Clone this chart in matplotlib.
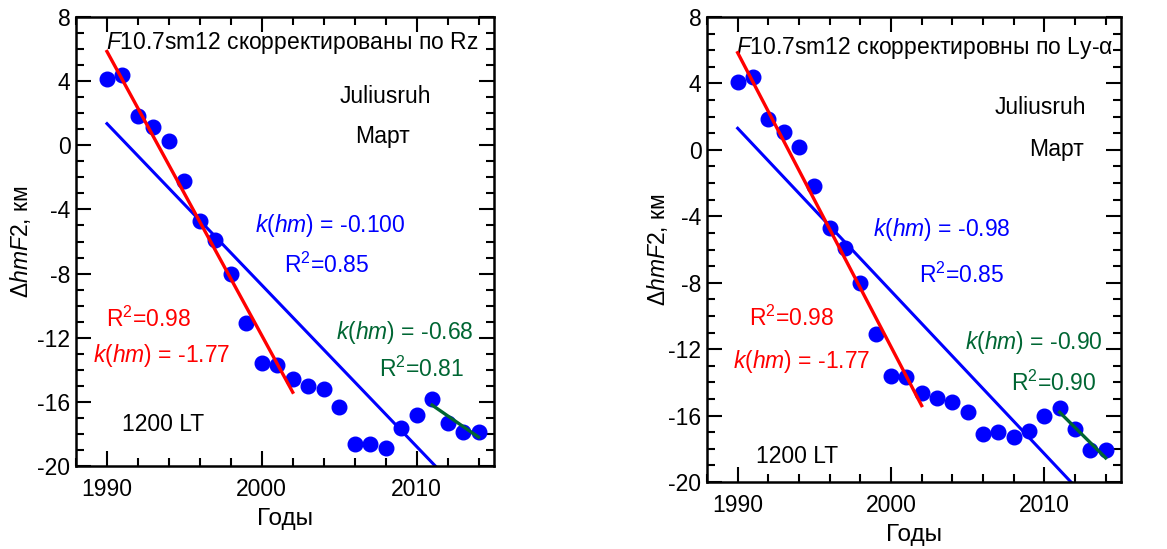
import matplotlib
matplotlib.use("Agg")
import matplotlib.pyplot as plt
from matplotlib.ticker import MultipleLocator

plt.rcParams['font.family'] = ['Liberation Sans', 'DejaVu Sans']
plt.rcParams['mathtext.fontset'] = 'custom'
plt.rcParams['mathtext.rm'] = 'Liberation Sans'
plt.rcParams['mathtext.it'] = 'Liberation Sans:italic'
plt.rcParams['axes.unicode_minus'] = False

years = list(range(1990, 2015))
dhm_rz = [4.15, 4.4, 1.85, 1.15, 0.25, -2.2, -4.7, -5.9, -8.0, -11.1, -13.6, -13.7,
          -14.6, -15.0, -15.2, -16.3, -18.6, -18.65, -18.85, -17.6, -16.8, -15.85,
          -17.3, -17.9, -17.9]
dhm_ly = [4.1, 4.4, 1.85, 1.1, 0.2, -2.15, -4.7, -5.9, -8.0, -11.08, -13.6, -13.7,
          -14.65, -14.95, -15.2, -15.8, -17.1, -17.0, -17.3, -16.95, -16.05, -15.55,
          -16.8, -18.1, -18.1]

red_fit_x = [1990, 2002]
red_fit_rz = [5.85, -15.4]
red_fit_ly = [5.85, -15.4]
blue_fit_x = [1990, 2012.5]
blue_fit_rz = [1.35, -21.3]
blue_fit_ly = [1.3, -20.75]
green_fit_x = [2011, 2014]
green_fit_rz = [-16.2, -18.2]
green_fit_ly = [-15.8, -18.55]

titles = [r'$\mathit{F}$10.7sm12 скорректированы по Rz',
          r'$\mathit{F}$10.7sm12 скорректировны по Ly-α']
k_blue = ['-0.100', '-0.98']
r2_blue = ['0.85', '0.85']
k_red = ['-1.77', '-1.77']
r2_red = ['0.98', '0.98']
k_green = ['-0.68', '-0.90']
r2_green = ['0.81', '0.90']

W, H = 1167, 549
fig = plt.figure(figsize=(W / 100, H / 100), dpi=100)
axes_px = [(76, 17, 494, 466), (707, 17, 1121, 482)]
ylabel_x = [-0.103, -0.089]

BLUE = '#0000ff'
RED = '#ff0000'
GREEN = '#006633'
FS = 16.5

pos = [
    dict(title=(2001.95, 6.38), jul=(2007.96, 3.07), mar=(2007.83, 0.52),
         kb=(2004.4, -5.03), rb=(2004.2, -7.46), rr=(1992.7, -10.83),
         kr=(1993.56, -13.13), kg=(2009.25, -11.7), rg=(2010.35, -14.0),
         lt=(1993.6, -17.44)),
    dict(title=(2002.2, 6.13), jul=(2009.74, 2.58), mar=(2010.78, 0.05),
         kb=(2003.3, -4.82), rb=(2004.6, -7.53), rr=(1993.5, -10.12),
         kr=(1994.2, -12.77), kg=(2009.3, -11.57), rg=(2010.6, -14.03),
         lt=(1993.9, -18.49)),
]

datasets = [(dhm_rz, red_fit_rz, blue_fit_rz, green_fit_rz),
            (dhm_ly, red_fit_ly, blue_fit_ly, green_fit_ly)]

for i, (x0, y0, x1, y1) in enumerate(axes_px):
    ax = fig.add_axes([x0 / W, (H - y1) / H, (x1 - x0) / W, (y1 - y0) / H])
    vals, rf, bf, gf = datasets[i]
    ax.plot(years, vals, 'o', color=BLUE, markersize=10.5, zorder=3)
    ax.plot(red_fit_x, rf, color=RED, lw=2.4, zorder=4)
    ax.plot(blue_fit_x, bf, color=BLUE, lw=2.2, zorder=2)
    ax.plot(green_fit_x, gf, color=GREEN, lw=2.4, zorder=4)
    ax.set_xlim(1988, 2015)
    ax.set_ylim(-20, 8)
    ax.xaxis.set_major_locator(MultipleLocator(10))
    ax.xaxis.set_minor_locator(MultipleLocator(2))
    ax.yaxis.set_major_locator(MultipleLocator(4))
    ax.yaxis.set_minor_locator(MultipleLocator(1))
    ax.tick_params(which='both', direction='in', top=True, right=True,
                   labelsize=FS, width=1.5, colors='black')
    ax.tick_params(which='major', length=11)
    ax.tick_params(axis='x', which='major', pad=9)
    ax.tick_params(axis='y', which='major', pad=4)
    ax.tick_params(which='minor', length=6)
    for s in ax.spines.values():
        s.set_linewidth(1.8)
    ax.set_xlabel('Годы', fontsize=FS + 1, labelpad=5)
    ax.set_ylabel(r'Δ$\mathit{hmF2}$, км', fontsize=FS)
    ax.yaxis.set_label_coords(ylabel_x[i], 0.5)
    p = pos[i]
    kw = dict(ha='center', va='center', fontsize=FS)
    ax.text(*p['title'], titles[i], **kw)
    ax.text(*p['jul'], 'Juliusruh', **kw)
    ax.text(*p['mar'], 'Март', **kw)
    ax.text(*p['kb'], r'$\mathit{k}$($\mathit{hm}$) = ' + k_blue[i], color=BLUE, **kw)
    ax.text(*p['rb'], r'R$^2$=' + r2_blue[i], color=BLUE, **kw)
    ax.text(*p['rr'], r'R$^2$=' + r2_red[i], color=RED, **kw)
    ax.text(*p['kr'], r'$\mathit{k}$($\mathit{hm}$) = ' + k_red[i], color=RED, **kw)
    ax.text(*p['kg'], r'$\mathit{k}$($\mathit{hm}$) = ' + k_green[i], color=GREEN, **kw)
    ax.text(*p['rg'], r'R$^2$=' + r2_green[i], color=GREEN, **kw)
    ax.text(*p['lt'], '1200 LT', **kw)

fig.savefig('out.png', dpi=100)
